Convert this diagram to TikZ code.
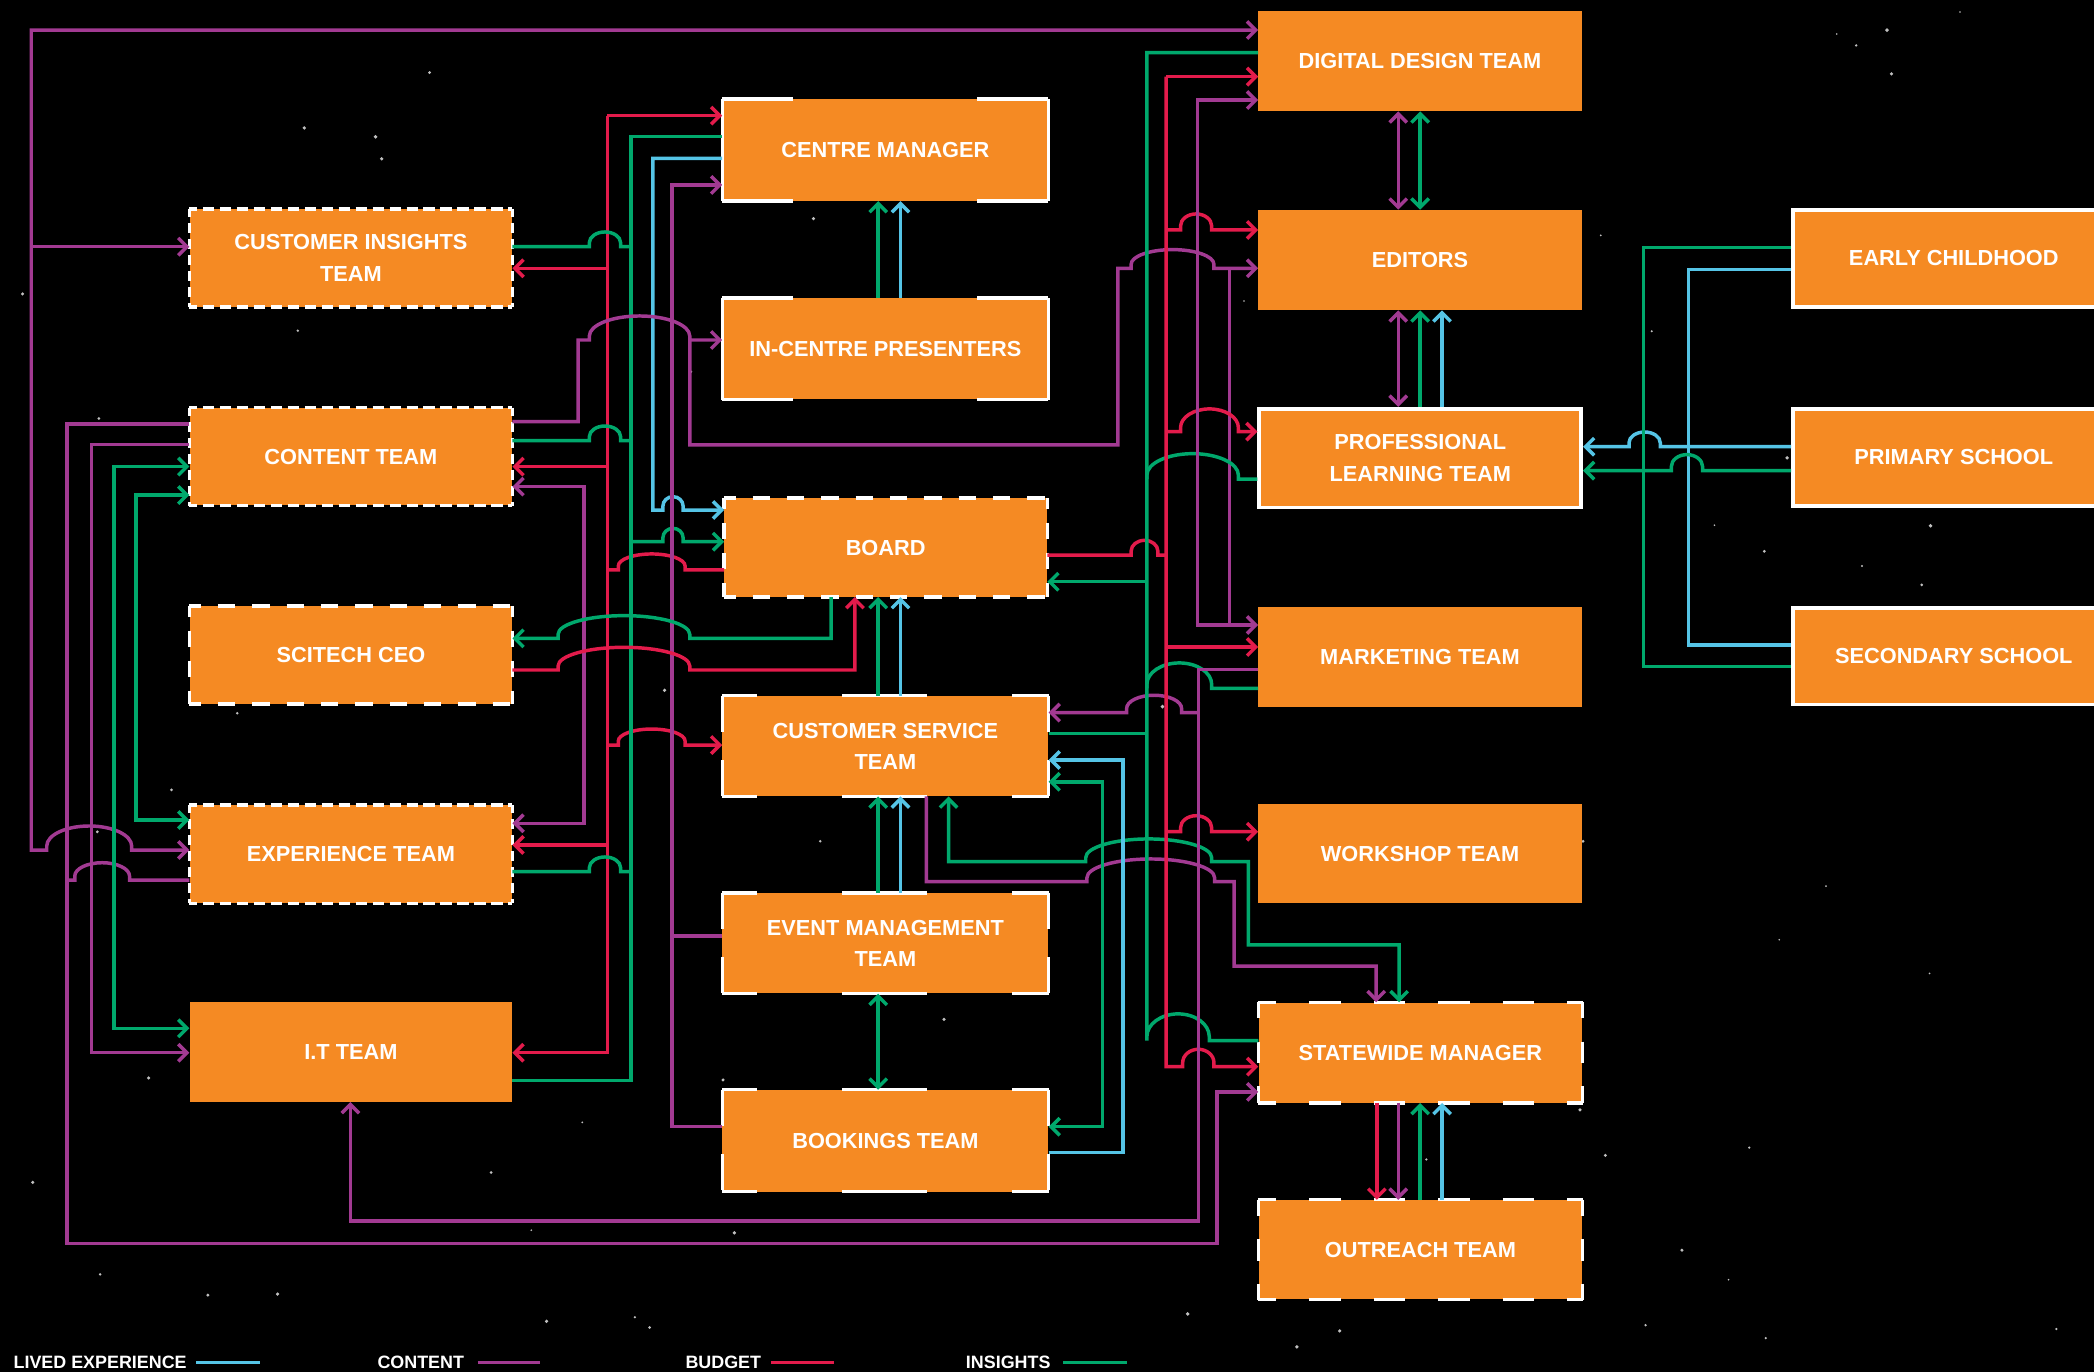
\documentclass[tikz,border=0pt]{standalone}
\usepackage{fontspec}
\usetikzlibrary{arrows.meta}
\newfontfamily\lsans{Liberation Sans}
\definecolor{corange}{HTML}{F58A23}
\definecolor{cpurple}{HTML}{A23A92}
\definecolor{cred}{HTML}{E31B4B}
\definecolor{cgreen}{HTML}{00A86C}
\definecolor{ccyan}{HTML}{55C4E6}
\newcommand{\bxfont}{\lsans\bfseries\fontsize{16.3}{23.5}\selectfont}
\newcommand{\lgfont}{\lsans\bfseries\fontsize{13.4}{16}\selectfont}
\newcommand{\bbord}[7]{%
  \draw[bline, dash pattern=on #2pt off #3pt, dash phase=#4pt] (#1.north west) -- (#1.north east) (#1.south west) -- (#1.south east);
  \draw[bline, dash pattern=on #5pt off #6pt, dash phase=#7pt] (#1.north west) -- (#1.south west) (#1.north east) -- (#1.south east);}
\tikzset{
  lp/.style={draw=cpurple,line width=2.6pt},
  lr/.style={draw=cred,line width=2.6pt},
  lg/.style={draw=cgreen,line width=2.6pt},
  lc/.style={draw=ccyan,line width=2.6pt},
  ar/.style={-{Straight Barb[length=6.5pt,width=13pt]}},
  arB/.style={{Straight Barb[length=6.5pt,width=13pt]}-{Straight Barb[length=6.5pt,width=13pt]}},
  box/.style={fill=corange,text=white,font=\bxfont,minimum width=241.5pt,minimum height=73pt,inner sep=0pt,align=center},
  wbox/.style={box,draw=white,line width=2.8pt,minimum width=240pt,minimum height=72.5pt},
  bline/.style={draw=white,line width=2.5pt},
  legend/.style={text=white,font=\lgfont,inner sep=0pt},
  hopover/.style n args={4}{insert path={-- (#1,#3) -- (#1,{#3-3}) .. controls (#1,{#3-3-0.55*(#4-3)}) and ({#1+0.225*(#2-#1)},{#3-#4}) .. ({0.5*(#1+#2)},{#3-#4}) .. controls ({#2-0.225*(#2-#1)},{#3-#4}) and (#2,{#3-3-0.55*(#4-3)}) .. (#2,{#3-3}) -- (#2,#3)}}
}
\begin{document}
\begin{tikzpicture}[x=1pt,y=-1pt]
\useasboundingbox (0,0) rectangle (1568,1027);
\clip (0,0) rectangle (1568,1027);
\fill[black] (0,0) rectangle (1568,1027);
% faint stars
\pgfmathsetseed{12}
\foreach \k in {1,...,80}{
  \pgfmathsetmacro\sx{rnd*1568}\pgfmathsetmacro\sy{rnd*1027}\pgfmathsetmacro\sr{0.6+rnd*0.9}
  \fill[gray!50] (\sx,\sy) circle[radius=\sr pt];}
% ---------- nodes
\node[box] (ci) at (262.75,193.2) {CUSTOMER INSIGHTS\\TEAM};
\node[box] (content) at (262.75,342) {CONTENT TEAM};
\node[box] (scitech) at (262.75,490.5) {SCITECH CEO};
\node[box] (exp) at (262.75,639.6) {EXPERIENCE TEAM};
\node[box,minimum height=74.4pt] (it) at (262.75,787.8) {I.T TEAM};
\node[box,minimum width=244pt,minimum height=76pt] (cm) at (663,112.4) {CENTRE MANAGER};
\node[box,minimum width=244pt,minimum height=75.6pt] (icp) at (663,261.2) {IN-CENTRE PRESENTERS};
\node[box,minimum width=241.6pt,minimum height=73.7pt] (board) at (663.2,410) {BOARD};
\node[box,minimum width=244pt,minimum height=75pt] (cst) at (663,558.7) {CUSTOMER SERVICE\\TEAM};
\node[box,minimum width=244pt,minimum height=75pt] (em) at (663,706.4) {EVENT MANAGEMENT\\TEAM};
\node[box,minimum width=244pt,minimum height=76pt] (bk) at (663,854.2) {BOOKINGS TEAM};
\node[box,minimum width=242pt,minimum height=75pt] (dd) at (1063.3,45.7) {DIGITAL DESIGN TEAM};
\node[box,minimum width=242pt,minimum height=75pt] (ed) at (1063.3,194.7) {EDITORS};
\node[wbox,minimum width=241pt,minimum height=74pt] (plt) at (1063.5,343) {PROFESSIONAL\\LEARNING TEAM};
\node[box,minimum width=242pt,minimum height=74.4pt] (mkt) at (1063.3,492) {MARKETING TEAM};
\node[box,minimum width=242pt,minimum height=74.4pt] (ws) at (1063.3,639.2) {WORKSHOP TEAM};
\node[box,minimum width=242.4pt,minimum height=75pt] (sw) at (1063.6,788.2) {STATEWIDE MANAGER};
\node[box,minimum width=242.4pt,minimum height=74.4pt] (ot) at (1063.6,935.8) {OUTREACH TEAM};
\node[wbox,minimum width=241pt,minimum height=72.5pt] (ec) at (1463,193.5) {EARLY CHILDHOOD};
\node[wbox,minimum width=241pt,minimum height=72.5pt] (prim) at (1463,342.5) {PRIMARY SCHOOL};
\node[wbox,minimum width=241pt,minimum height=72.5pt] (sec) at (1463,491.3) {SECONDARY SCHOOL};
% ---------- borders
\bbord{ci}{8.5}{4.2}{2.5}{7.5}{4.5}{1.5}
\bbord{content}{8.5}{4.2}{2.5}{7.5}{4.5}{1.5}
\bbord{exp}{8.5}{4.2}{2.5}{7.5}{4.5}{1.5}
\bbord{scitech}{13}{12.7}{4.3}{12}{10.5}{4}
\bbord{board}{13}{12.7}{4.3}{12}{10.5}{4}
\bbord{cm}{53}{138}{0}{300}{1}{0}
\bbord{icp}{53}{138}{0}{300}{1}{0}
\bbord{cst}{63}{64}{37}{27}{21}{0}
\bbord{em}{63}{64}{37}{27}{21}{0}
\bbord{bk}{63}{64}{37}{27}{21}{0}
\bbord{sw}{23.4}{24.9}{10.1}{16}{17.5}{4}
\bbord{ot}{23.4}{24.9}{10.1}{16}{17.5}{4}
% ---------- far left
\draw[lp,arB] (dd.west |- 0,22.5) -- (23.4,22.5) -- (23.4,636.5) [hopover={35}{98.6}{636.5}{18}] -- (exp.west |- 0,636.5);
\draw[lp,ar] (23.4,184.7) -- (ci.west |- 0,184.7);
\draw[lp,ar] (content.west |- 0,317.5) -- (50.1,317.5) -- (50.1,931) -- (911.3,931) -- (911.3,817.6) -- (sw.west |- 0,817.6);
\draw[lp] (exp.west |- 0,659) [hopover={97}{56}{659}{13}] -- (50.1,659);
\draw[lp,ar] (content.west |- 0,333) -- (68.5,333) -- (68.5,788.3) -- (it.west |- 0,788.3);
\draw[lg,arB] (content.west |- 0,349.4) -- (85.2,349.4) -- (85.2,770) -- (it.west |- 0,770);
\draw[lg,arB] (content.west |- 0,370.7) -- (102,370.7) -- (102,614) -- (exp.west |- 0,614);
% ---------- red bus
\draw[lr,ar] (454.7,86.6) -- (cm.west |- 0,86.6);
\draw[lr,ar] (454.7,86.6) -- (454.7,788.3) -- (it.east |- 0,788.3);
\draw[lr,ar] (454.7,200.9) -- (ci.east |- 0,200.9);
\draw[lr,ar] (454.7,349.4) -- (content.east |- 0,349.4);
\draw[lr,ar] (454.7,632.7) -- (exp.east |- 0,632.7);
\draw[lr] (board.west |- 0,426.8) [hopover={513}{463}{426.8}{12}] -- (454.7,426.8);
\draw[lr,ar] (454.7,557.9) [hopover={463}{513}{557.9}{12}] -- (cst.west |- 0,557.9);
% ---------- green bus
\draw[lg] (cm.west |- 0,102.3) -- (472.4,102.3) -- (472.4,809.2) -- (it.east |- 0,809.2);
\draw[lg] (ci.east |- 0,184.7) [hopover={441.3}{464.7}{184.7}{11}] -- (472.4,184.7);
\draw[lg] (content.east |- 0,330) [hopover={441.3}{464.7}{330}{11}] -- (472.4,330);
\draw[lg] (exp.east |- 0,652.7) [hopover={441.3}{464.7}{652.7}{11}] -- (472.4,652.7);
\draw[lg,ar] (472.4,405.6) [hopover={496.4}{511.5}{405.6}{10}] -- (board.west |- 0,405.6);
% ---------- cyan
\draw[lc,ar] (cm.west |- 0,118.6) -- (488.8,118.6) -- (488.8,381.9) [hopover={496.4}{511.5}{381.9}{10}] -- (board.west |- 0,381.9);
% ---------- purple 503
\draw[lp,ar] (bk.west |- 0,843.7) -- (503.1,843.7) -- (503.1,138.5) -- (cm.west |- 0,138.5);
\draw[lp] (em.west |- 0,701) -- (503.1,701);
\draw[lp,arB] (content.east |- 0,364.4) -- (437.3,364.4) -- (437.3,616.5) -- (exp.east |- 0,616.5);
% ---------- content to presenters / editors
\draw[lp,ar] (content.east |- 0,315.7) -- (432.9,315.7) -- (432.9,254.6) [hopover={441.3}{516.5}{254.6}{18}] -- (icp.west |- 0,254.6);
\draw[lp,ar] (516.5,254.6) -- (516.5,333.2) -- (837.1,333.2) -- (837.1,200.9) [hopover={847}{909}{200.9}{14}] -- (ed.west |- 0,200.9);
\draw[lp] (920.8,200.9) -- (920.8,468);
% ---------- scitech
\draw[lg,ar] (board.south -| 622.4,0) -- (622.4,478) [hopover={516.5}{417.9}{478}{17}] -- (scitech.east |- 0,478);
\draw[lr,ar] (scitech.east |- 0,501.7) [hopover={417.9}{516.5}{501.7}{17}] -- (640.2,501.7) -- (board.south -| 640.2,0);
% ---------- middle verticals
\draw[lg,ar] (icp.north -| 657.6,0) -- (cm.south -| 657.6,0);
\draw[lc,ar] (icp.north -| 674.3,0) -- (cm.south -| 674.3,0);
\draw[lg,ar] (cst.north -| 657.6,0) -- (board.south -| 657.6,0);
\draw[lc,ar] (cst.north -| 674.3,0) -- (board.south -| 674.3,0);
\draw[lg,ar] (em.north -| 657.6,0) -- (cst.south -| 657.6,0);
\draw[lc,ar] (em.north -| 674.3,0) -- (cst.south -| 674.3,0);
\draw[lg,arB] (em.south -| 657.6,0) -- (bk.north -| 657.6,0);
% ---------- CST to statewide
\draw[lp,ar] (cst.south -| 693.7,0) -- (693.7,660.2) [hopover={813.9}{909.5}{660.2}{17}] -- (924.1,660.2) -- (924.1,723.4) -- (1030.5,723.4) -- (sw.north -| 1030.5,0);
\draw[lg,arB] (cst.south -| 710.3,0) -- (710.3,645.2) [hopover={813}{907.3}{645.2}{17}] -- (934.8,645.2) -- (934.8,707.6) -- (1047.7,707.6) -- (sw.north -| 1047.7,0);
% ---------- CST right side
\draw[lc,ar] (bk.east |- 0,863.1) -- (841,863.1) -- (841,569.1) -- (cst.east |- 0,569.1);
\draw[lg,arB] (cst.east |- 0,585.4) -- (825.7,585.4) -- (825.7,843.7) -- (bk.east |- 0,843.7);
\draw[lp,ar] (897.3,533.6) [hopover={884.8}{843.6}{533.6}{13}] -- (cst.east |- 0,533.6);
\draw[lg] (cst.east |- 0,549.1) -- (858.8,549.1);
% ---------- board right
\draw[lr] (board.east |- 0,415.6) [hopover={847}{867}{415.6}{11}] -- (873.2,415.6);
\draw[lg,ar] (858.8,435.6) -- (board.east |- 0,435.6);
% ---------- green bus right
\draw[lg] (dd.west |- 0,39.4) -- (858.8,39.4) -- (858.8,779.2) [hopover={858.8}{905.5}{779.2}{20}] -- (sw.west |- 0,779.2);
\draw[lg] (plt.west |- 0,358.7) [hopover={927.3}{858.8}{358.7}{19}];
\draw[lg] (mkt.west |- 0,515.4) [hopover={907.3}{858.8}{515.4}{19}];
% ---------- red bus right
\draw[lr,ar] (873.2,57.4) -- (dd.west |- 0,57.4);
\draw[lr,ar] (873.2,57.4) -- (873.2,798.7) [hopover={885.6}{909}{798.7}{13}] -- (sw.west |- 0,798.7);
\draw[lr,ar] (873.2,172.2) [hopover={884}{907.3}{172.2}{12}] -- (ed.west |- 0,172.2);
\draw[lr,ar] (873.2,323.2) [hopover={884}{927.3}{323.2}{17}] -- (plt.west |- 0,323.2);
\draw[lr,ar] (873.2,484.5) -- (mkt.west |- 0,484.5);
\draw[lr,ar] (873.2,622.8) [hopover={884}{907.3}{622.8}{12}] -- (ws.west |- 0,622.8);
% ---------- purple right
\draw[lp,arB] (dd.west |- 0,74.9) -- (896.5,74.9) -- (896.5,468) -- (mkt.west |- 0,468);
\draw[lp,ar] (mkt.west |- 0,501.2) -- (897.3,501.2) -- (897.3,914.3) -- (262.4,914.3) -- (it.south -| 262.4,0);
% ---------- right column verticals
\draw[lp,arB] (dd.south -| 1047,0) -- (ed.north -| 1047,0);
\draw[lg,arB] (dd.south -| 1063.4,0) -- (ed.north -| 1063.4,0);
\draw[lp,arB] (plt.north -| 1047,0) -- (ed.south -| 1047,0);
\draw[lg,ar] (plt.north -| 1063.4,0) -- (ed.south -| 1063.4,0);
\draw[lc,ar] (plt.north -| 1079.8,0) -- (ed.south -| 1079.8,0);
\draw[lr,ar] (sw.south -| 1031,0) -- (ot.north -| 1031,0);
\draw[lp,ar] (sw.south -| 1047,0) -- (ot.north -| 1047,0);
\draw[lg,ar] (ot.north -| 1063.4,0) -- (sw.south -| 1063.4,0);
\draw[lc,ar] (ot.north -| 1079.8,0) -- (sw.south -| 1079.8,0);
% ---------- schools
\draw[lc] (ec.west |- 0,201.7) -- (1264.2,201.7) -- (1264.2,482.9) -- (sec.west |- 0,482.9);
\draw[lc,ar] (prim.west |- 0,334.5) [hopover={1243.2}{1219.8}{334.5}{11}] -- (plt.east |- 0,334.5);
\draw[lg] (ec.west |- 0,185.2) -- (1230.8,185.2) -- (1230.8,499.2) -- (sec.west |- 0,499.2);
\draw[lg,ar] (prim.west |- 0,352.4) [hopover={1274.9}{1251.5}{352.4}{12}] -- (plt.east |- 0,352.4);
% ---------- legend
\node[legend,anchor=base west] (lgA) at (10,1025) {LIVED EXPERIENCE};
\draw[lc] (147,1020.4) -- (194.6,1020.4);
\node[legend,anchor=base west] (lgB) at (282.5,1025) {CONTENT};
\draw[lp] (357.7,1020.4) -- (404.5,1020.4);
\node[legend,anchor=base west] (lgC) at (513.1,1025) {BUDGET};
\draw[lr] (577.3,1020.4) -- (624.5,1020.4);
\node[legend,anchor=base west] (lgD) at (723.1,1025) {INSIGHTS};
\draw[lg] (796.3,1020.4) -- (844.1,1020.4);
\end{tikzpicture}
\end{document}
